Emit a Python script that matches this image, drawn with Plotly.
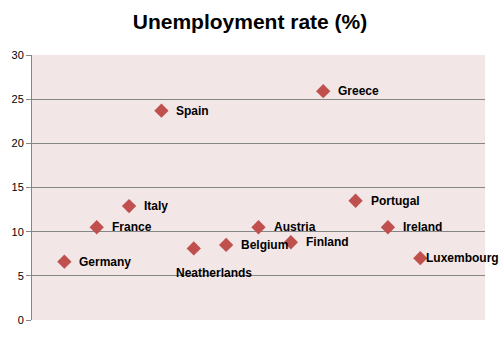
import plotly.graph_objects as go

countries = ["Germany", "France", "Italy", "Spain", "Neatherlands", "Belgium",
             "Austria", "Finland", "Greece", "Portugal", "Ireland", "Luxembourg"]
positions = [1, 2, 3, 4, 5, 6, 7, 8, 9, 10, 11, 12]
rates = [6.6, 10.5, 12.9, 23.7, 8.1, 8.5, 10.5, 8.8, 25.9, 13.5, 10.5, 7.0]
y_ticks = [0, 5, 10, 15, 20, 25, 30]

fig = go.Figure()
fig.add_trace(go.Scatter(
    x=positions, y=rates, mode="markers",
    marker=dict(symbol="diamond", size=11, color="#C0504D", line=dict(width=0)),
    hoverinfo="skip", showlegend=False,
))

annotations = []
for name, xv, yv in zip(countries, positions, rates):
    if name == "Neatherlands":
        xs, ys, anchor = 20, -25, "center"
    elif name == "Luxembourg":
        xs, ys, anchor = 4, 0, "left"
    else:
        xs, ys, anchor = 13, 0, "left"
    annotations.append(dict(
        x=xv, y=yv, xref="x", yref="y", text=name, showarrow=False,
        xanchor=anchor, yanchor="middle", xshift=xs, yshift=ys,
        font=dict(family="Liberation Sans, Arial", size=12, color="#000000", weight="bold"),
    ))

fig.update_layout(
    width=500, height=338,
    margin=dict(l=32, r=15, t=55, b=14),
    paper_bgcolor="#FFFFFF", plot_bgcolor="#F2E6E6",
    title=dict(text="<b>Unemployment rate (%)</b>", x=0.5, xanchor="center",
               y=1 - 22 / 338, yanchor="middle",
               font=dict(family="Liberation Sans, Arial", size=21, color="#000000")),
    xaxis=dict(range=[0, 14], showticklabels=False, showgrid=False, zeroline=False,
               showline=False, ticks=""),
    yaxis=dict(range=[0, 30], tickvals=y_ticks, showgrid=True, gridcolor="#868686",
               gridwidth=1, zeroline=False, showline=True, linecolor="#868686",
               linewidth=1, ticks="outside", ticklen=5, tickcolor="#868686",
               tickfont=dict(family="Liberation Sans, Arial", size=11, color="#000000")),
    annotations=annotations,
)

fig.write_html("out.html")
